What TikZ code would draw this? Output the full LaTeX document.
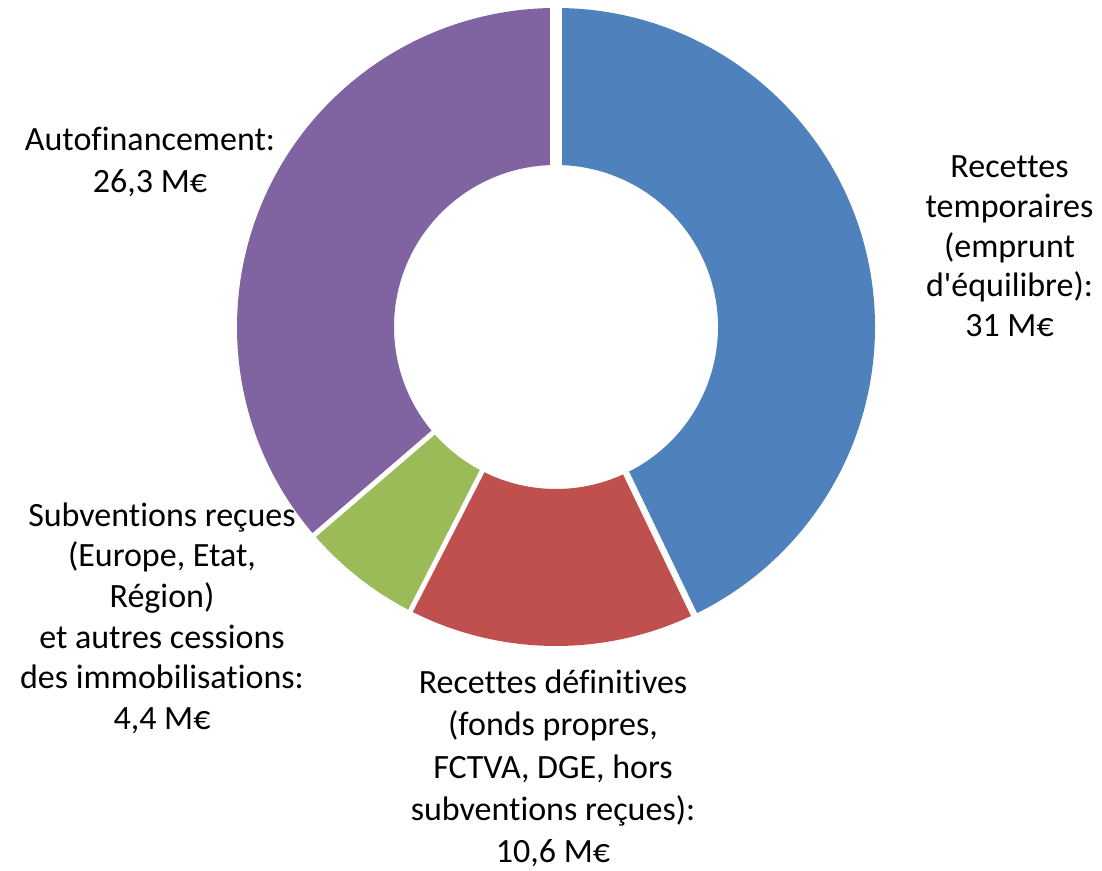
\documentclass[tikz,border=0pt]{standalone}
\usepackage{fontspec}
\setmainfont{Carlito}[Ligatures={TeXOff,CommonOff}]
\definecolor{sblue}{HTML}{4F81BD}
\definecolor{sred}{HTML}{C0504D}
\definecolor{sgreen}{HTML}{9BBB59}
\definecolor{spurple}{HTML}{8064A2}
\newcommand\donutslice[3]{%
  \fill[#3] ([shift={(#1:319)}]C) arc[start angle=#1,end angle=#2,radius=319]
    -- ([shift={(#2:162)}]C) arc[start angle=#2,end angle=#1,radius=162] -- cycle;}
\tikzset{
  lbl/.style={align=center, inner sep=0pt, anchor=north, text=black},
  gap/.style={draw=white, line width=#1},
}
\begin{document}
\begin{tikzpicture}[x=1pt,y=1pt]
\useasboundingbox[fill=white] (0,0) rectangle (1102,870);
\coordinate (C) at (556,543);
% slices
\donutslice{90}{-64.36}{sblue}
\donutslice{-64.36}{-117.14}{sred}
\donutslice{-117.14}{-139.3}{sgreen}
\donutslice{-139.3}{-270}{spurple}
% gaps between slices
\coordinate (g1a) at ([shift={(90:150)}]C);
\coordinate (g1b) at ([shift={(90:335)}]C);
\coordinate (g2a) at ([shift={(-64.36:150)}]C);
\coordinate (g2b) at ([shift={(-64.36:335)}]C);
\coordinate (g3a) at ([shift={(-117.14:150)}]C);
\coordinate (g3b) at ([shift={(-117.14:335)}]C);
\coordinate (g4a) at ([shift={(-139.3:150)}]C);
\coordinate (g4b) at ([shift={(-139.3:335)}]C);
\draw[gap=12] (g1a) -- (g1b);
\draw[gap=6.5] (g2a) -- (g2b);
\draw[gap=5] (g3a) -- (g3b);
\draw[gap=5] (g4a) -- (g4b);
% labels
\node[lbl, font=\fontsize{34}{42}\selectfont] (auto) at (150,749.4)
  {\strut Autofinancement:\\26,3 M€\strut};
\node[lbl, font=\fontsize{34}{39.7}\selectfont] (temp) at (1009.5,720.3)
  {\strut Recettes\\temporaires\\(emprunt\\d'équilibre):\\31 M€\strut};
\node[lbl, font=\fontsize{34}{40.7}\selectfont] (subv) at (162,372.5)
  {\strut Subventions reçues\\(Europe, Etat,\\Région)\\et autres cessions\\des immobilisations:\\4,4 M€\strut};
\node[lbl, font=\fontsize{34}{42.3}\selectfont] (defi) at (553,206.3)
  {\strut Recettes définitives\\(fonds propres,\\FCTVA, DGE, hors\\subventions reçues):\\10,6 M€\strut};
\end{tikzpicture}
\end{document}
